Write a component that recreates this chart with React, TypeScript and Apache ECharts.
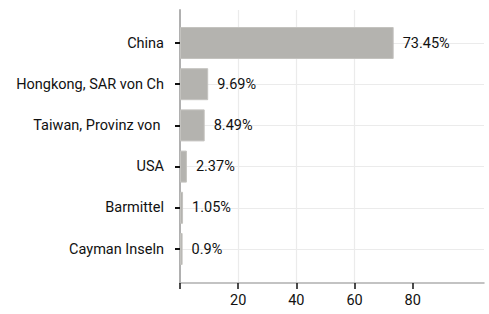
import React, { useEffect, useRef } from "react";
import * as echarts from "echarts";

const categories = [
  "China",
  "Hongkong, SAR von Ch",
  "Taiwan, Provinz von ",
  "USA",
  "Barmittel",
  "Cayman Inseln",
];
const values = [73.45, 9.69, 8.49, 2.37, 1.05, 0.9];
const valueLabels = ["73.45%", "9.69%", "8.49%", "2.37%", "1.05%", "0.9%"];
const xTickValues = [0, 20, 40, 60, 80];
const xLabelValues = [20, 40, 60, 80];

const FONT = "Roboto, 'Noto Sans', sans-serif";
const FS = 14.5;
const TEXT = "#111111";
const X_MAX = 104.5;

export default function App() {
  const ref = useRef<HTMLDivElement>(null);
  useEffect(() => {
    if (!ref.current) return;
    const chart = echarts.init(ref.current, undefined, { renderer: "svg" });
    chart.setOption({
      animation: false,
      backgroundColor: "#ffffff",
      grid: [
        { left: 180, right: 5, top: 43, height: 206 },
        { left: 180, right: 5, top: 10, height: 273 },
      ],
      xAxis: [
        {
          gridIndex: 0,
          type: "value",
          min: 0,
          max: X_MAX,
          interval: 20,
          axisLine: { show: false },
          axisTick: { show: false },
          axisLabel: { show: false },
          splitLine: { show: false },
        },
        {
          gridIndex: 1,
          type: "value",
          min: 0,
          max: X_MAX,
          interval: 20,
          axisLine: {
            show: true,
            onZero: false,
            lineStyle: { color: "#b0b0b0", width: 1.5 },
          },
          axisTick: {
            show: true,
            customValues: xTickValues,
            length: 6,
            lineStyle: { color: "#111", width: 1.5 },
          },
          axisLabel: {
            customValues: xLabelValues,
            color: TEXT,
            fontFamily: FONT,
            fontSize: FS,
            margin: 10,
          },
          splitLine: {
            show: true,
            showMinLine: false,
            showMaxLine: false,
            lineStyle: { color: "#ebebeb", width: 1.2 },
          },
        },
      ],
      yAxis: [
        {
          gridIndex: 0,
          type: "category",
          data: categories,
          inverse: true,
          boundaryGap: false,
          axisLine: { show: false },
          axisTick: {
            show: true,
            length: 5,
            lineStyle: { color: "#111", width: 2 },
          },
          axisLabel: {
            color: TEXT,
            fontFamily: FONT,
            fontSize: FS,
            margin: 16,
          },
          splitLine: {
            show: true,
            lineStyle: { color: "#ebebeb", width: 1.2 },
          },
        },
        {
          gridIndex: 1,
          type: "value",
          min: 0,
          max: 1,
          axisLine: {
            show: true,
            onZero: false,
            lineStyle: { color: "#b0b0b0", width: 2 },
          },
          axisTick: { show: false },
          axisLabel: { show: false },
          splitLine: { show: false },
        },
      ],
      series: [
        {
          type: "bar",
          xAxisIndex: 0,
          yAxisIndex: 0,
          clip: false,
          data: values,
          barWidth: 32,
          itemStyle: {
            color: "#b4b3af",
            borderColor: "#c4c3bf",
            borderWidth: 1,
          },
          label: {
            show: true,
            position: "right",
            distance: 9,
            color: TEXT,
            fontFamily: FONT,
            fontSize: FS,
            formatter: (p: any) => valueLabels[p.dataIndex],
          },
        },
      ],
    });
    return () => chart.dispose();
  }, []);
  return (
    <div
      ref={ref}
      style={{ position: "fixed", left: 0, top: 0, width: 489, height: 314 }}
    />
  );
}
